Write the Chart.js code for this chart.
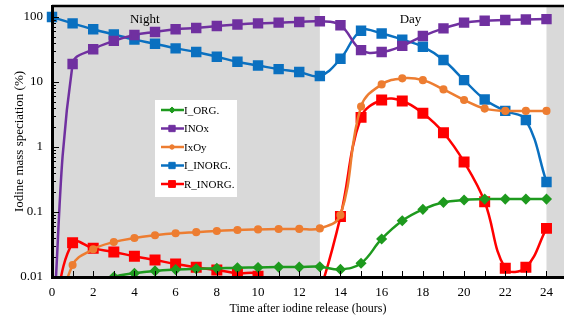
<!DOCTYPE html>
<html>
<head>
<meta charset="utf-8">
<script src="https://cdn.jsdelivr.net/npm/chart.js@4.4.1/dist/chart.umd.min.js"></script>
<style>
  body { margin: 0; background: #fff; }
  #wrap { width: 564px; height: 322px; }
</style>
</head>
<body>
<div id="wrap"><canvas id="chart"></canvas></div>
<script>
// Hours after release
const hours = [0, 1, 2, 3, 4, 5, 6, 7, 8, 9, 10, 11, 12, 13, 14, 15, 16, 17, 18, 19, 20, 21, 22, 23, 24];

// Iodine speciation (%) (values below 0.01 are off-axis)
const iOrg    = [0.003, 0.005, 0.007, 0.0100, 0.0114, 0.0124, 0.0130, 0.0134, 0.0136, 0.0139, 0.0140, 0.0142, 0.0142, 0.0144, 0.0131, 0.0163, 0.0385, 0.0735, 0.110, 0.141, 0.153, 0.158, 0.158, 0.158, 0.158];
const inox    = [0.001, 19, 32, 43, 53, 59, 65, 68, 73, 77, 80, 82, 84, 86, 75, 31, 29, 36, 51, 67, 82, 88, 90, 92, 93];
const ixoy    = [0.001, 0.0153, 0.0267, 0.0345, 0.0398, 0.0438, 0.047, 0.049, 0.051, 0.053, 0.054, 0.0547, 0.055, 0.056, 0.09, 4.2, 9.2, 11.4, 10.7, 7.7, 5.3, 3.9, 3.6, 3.6, 3.6];
const iInorg  = [100, 80, 65, 54, 45, 38.8, 33, 29, 24.5, 20.5, 18, 15.8, 14.3, 12.4, 22.8, 61.5, 56, 45, 35, 21.8, 10.7, 5.4, 3.6, 2.6, 0.29];
const rInorg  = [0.002, 0.0337, 0.0276, 0.0243, 0.0208, 0.0183, 0.0158, 0.0141, 0.0128, 0.0114, 0.0103, 0.001, 0.001, 0.006, 0.085, 2.86, 5.3, 5.1, 3.3, 1.66, 0.59, 0.144, 0.0136, 0.0141, 0.056];

// Axis ticks
const xTickValues = [0, 2, 4, 6, 8, 10, 12, 14, 16, 18, 20, 22, 24];
const yTickValues = [0.01, 0.1, 1, 10, 100];

// Shaded periods (hours)
const nightBand = [0, 13];
const lateBand = [24, 30];

const SERIF = '"Liberation Serif", "DejaVu Serif", serif';

function series(label, values, color, style, radius) {
    return {
        label: label,
        data: hours.map((h, i) => ({ x: h, y: values[i] })),
        borderColor: color,
        backgroundColor: color,
        borderWidth: 2.5,
        pointStyle: style,
        pointRadius: radius,
        pointHoverRadius: radius,
        tension: 0.4,
        clip: { left: 8, top: 8, right: 8, bottom: 1 }
    };
}

const datasets = [
    series('I_ORG.', iOrg, '#1e9a1e', 'rectRot', 3.8),
    series('INOx', inox, '#7030a0', 'rect', 5.6),
    series('IxOy', ixoy, '#ed7d31', 'circle', 2.8),
    series('I_INORG.', iInorg, '#0a70c0', 'rect', 5.6),
    series('R_INORG.', rInorg, '#ff0000', 'rect', 6)
];

// grey night/out-of-range bands + Night/Day labels
const bandsPlugin = {
    id: 'bands',
    beforeDatasetsDraw(chart) {
        const { ctx, chartArea: a, scales: { x } } = chart;
        ctx.save();
        ctx.fillStyle = '#d9d9d9';
        [nightBand, lateBand].forEach(b => {
            const x0 = Math.max(a.left, x.getPixelForValue(b[0]));
            const x1 = Math.min(a.right, x.getPixelForValue(b[1]));
            ctx.fillRect(x0, a.top, x1 - x0, a.bottom - a.top);
        });
        ctx.fillStyle = '#000';
        ctx.font = '13px ' + SERIF;
        ctx.textAlign = 'center';
        ctx.textBaseline = 'middle';
        ctx.fillText('Night', x.getPixelForValue(4.5), a.top + 14);
        ctx.fillText('Day', x.getPixelForValue(17.4), a.top + 14);
        ctx.restore();
    }
};

// inside tick marks, top border and the floating legend
const framePlugin = {
    id: 'frame',
    afterDraw(chart) {
        const { ctx, chartArea: a, scales: { x, y } } = chart;
        ctx.save();
        ctx.strokeStyle = '#000';
        ctx.lineWidth = 1;
        ctx.beginPath();
        for (let h = 0; h <= 24; h++) {
            const px = Math.round(x.getPixelForValue(h)) + 0.5;
            ctx.moveTo(px, a.bottom);
            ctx.lineTo(px, a.bottom - 6);
        }
        for (let e = -2; e <= 2; e++) {
            for (let m = 1; m <= 9; m++) {
                const v = m * Math.pow(10, e);
                if (v > y.max) continue;
                const py = Math.round(y.getPixelForValue(v)) + 0.5;
                ctx.moveTo(a.left, py);
                ctx.lineTo(a.left + (m === 1 ? 7 : 4), py);
            }
        }
        ctx.stroke();

        ctx.lineWidth = 2.5;
        ctx.beginPath();
        ctx.moveTo(a.left, a.top);
        ctx.lineTo(a.right, a.top);
        ctx.stroke();

        // legend box
        ctx.fillStyle = '#fff';
        ctx.fillRect(155, 100, 82, 97);
        ctx.font = '11px ' + SERIF;
        ctx.textBaseline = 'middle';
        ctx.textAlign = 'left';
        chart.data.datasets.forEach((ds, i) => {
            const ly = 110 + i * 18.5;
            ctx.strokeStyle = ds.borderColor;
            ctx.lineWidth = 2.5;
            ctx.beginPath();
            ctx.moveTo(161, ly);
            ctx.lineTo(184, ly);
            ctx.stroke();
            ctx.fillStyle = ds.backgroundColor;
            ctx.strokeStyle = ds.borderColor;
            ctx.lineWidth = 1;
            Chart.helpers.drawPoint(ctx, { pointStyle: ds.pointStyle, radius: ds.pointRadius * 0.8, borderWidth: 1, rotation: 0 }, 172, ly);
            ctx.fillStyle = '#000';
            ctx.fillText(ds.label, 184, ly + 1);
        });
        ctx.restore();
    }
};

new Chart(document.getElementById('chart'), {
    type: 'line',
    data: { datasets: datasets },
    plugins: [bandsPlugin, framePlugin],
    options: {
        responsive: true,
        maintainAspectRatio: false,
        animation: false,
        layout: { autoPadding: false, padding: { top: 6, right: 0, left: 0, bottom: 0 } },
        plugins: {
            legend: { display: false },
            tooltip: { enabled: false }
        },
        scales: {
            x: {
                type: 'linear',
                min: 0,
                max: 24.85,
                afterFit: s => { s.height = 45; s.paddingLeft = 0; s.paddingRight = 0; },
                afterBuildTicks: s => { s.ticks = xTickValues.map(v => ({ value: v })); },
                grid: { drawOnChartArea: false, drawTicks: false },
                border: { color: '#000', width: 3, z: 1 },
                ticks: { color: '#000', font: { family: SERIF, size: 13 }, padding: 8, maxRotation: 0 },
                title: { display: true, text: 'Time after iodine release (hours)', color: '#000', font: { family: SERIF, size: 12 }, padding: { top: 0, bottom: 6 } }
            },
            y: {
                type: 'logarithmic',
                min: 0.01,
                max: 148,
                afterFit: s => { s.width = 52; s.paddingTop = 0; s.paddingBottom = 0; },
                afterBuildTicks: s => { s.ticks = yTickValues.map(v => ({ value: v })); },
                grid: { drawOnChartArea: false, drawTicks: false },
                border: { color: '#000', width: 3, z: 1 },
                ticks: { color: '#000', font: { family: SERIF, size: 13 }, padding: 9, callback: v => String(v) },
                title: { display: true, text: 'Iodine mass speciation (%)', color: '#000', font: { family: SERIF, size: 13 }, padding: { top: 12, bottom: 0 } }
            }
        }
    }
});
</script>
</body>
</html>
